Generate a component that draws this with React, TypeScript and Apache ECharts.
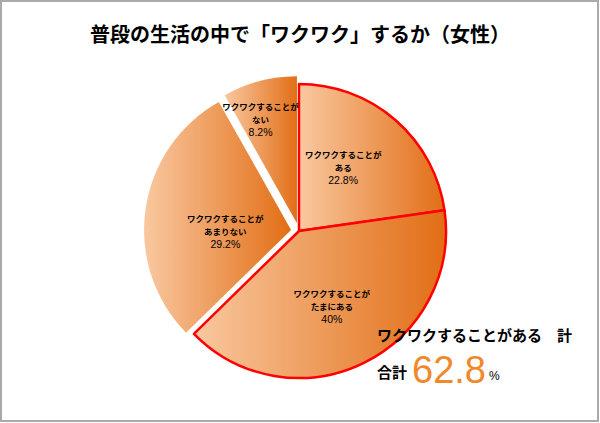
import React, { useEffect, useRef } from "react";
import * as echarts from "echarts";

const categories = [
  "ワクワクすることが\nある",
  "ワクワクすることが\nたまにある",
  "ワクワクすることが\nあまりない",
  "ワクワクすることが\nない",
];
const values = [22.8, 40, 29.2, 8.2];
const valueLabels = ["22.8%", "40%", "29.2%", "8.2%"];
const highlighted = [true, true, false, false];
const labelShifts: number[][] = [[-6, -6], [-1, 6], [10, 12], [-17, -30]];

const titleText = "普段の生活の中で「ワクワク」するか（女性）";
const totalCaption = "ワクワクすることがある　計";
const totalValue = "62.8";

export default function App() {
  const ref = useRef<HTMLDivElement>(null);
  useEffect(() => {
    if (!ref.current) return;
    const chart = echarts.init(ref.current, null, { renderer: "svg" });
    const grad = () =>
      new echarts.graphic.LinearGradient(0, 0, 1, 0, [
        { offset: 0, color: "#F9C8A0" },
        { offset: 1, color: "#E26E16" },
      ]);
    const font = "'Noto Sans CJK JP', 'Noto Sans', sans-serif";
    const latin = "'Liberation Sans', Arial, sans-serif";
    chart.setOption({
      animation: false,
      backgroundColor: "#ffffff",
      title: {
        text: titleText,
        left: "center",
        top: 18,
        textStyle: { fontSize: 20, fontWeight: "bold", color: "#000", fontFamily: font },
      },
      graphic: [
        {
          type: "rect",
          z: 100,
          shape: { x: 1, y: 1, width: 597, height: 420 },
          style: { fill: "none", stroke: "#aaaaaa", lineWidth: 2 },
          silent: true,
        },
        {
          type: "text",
          z: 100,
          left: 377,
          top: 327,
          style: { text: totalCaption, fontSize: 15, fontWeight: "bold", fill: "#000", fontFamily: font },
        },
        {
          type: "text",
          z: 100,
          left: 377,
          top: 364,
          style: { text: "合計", fontSize: 15, fontWeight: "bold", fill: "#000", fontFamily: font },
        },
        {
          type: "text",
          z: 100,
          left: 412,
          top: 351,
          style: { text: totalValue, fontSize: 38, fill: "#F0882C", fontFamily: latin },
        },
        {
          type: "text",
          z: 100,
          left: 489,
          top: 370,
          style: { text: "%", fontSize: 12, fill: "#000", fontFamily: latin },
        },
      ],
      series: [
        {
          type: "pie",
          center: [299, 231],
          radius: [0, 147],
          startAngle: 90,
          clockwise: true,
          selectedMode: "multiple",
          selectedOffset: 8,
          emphasis: { disabled: true },
          labelLine: { show: false },
          labelLayout: (params: any) => ({
            dx: labelShifts[params.dataIndex][0],
            dy: labelShifts[params.dataIndex][1],
          }),
          data: values.map((v, i) => ({
            value: v,
            name: categories[i],
            selected: !highlighted[i],
            itemStyle: {
              color: grad(),
              borderColor: highlighted[i] ? "#FF0000" : "transparent",
              borderWidth: highlighted[i] ? 2.5 : 0,
            },
            label: {
              show: true,
              position: "inside",
              formatter: () => `{b|${categories[i]}}\n{v|${valueLabels[i]}}`,
              rich: {
                b: { fontSize: 8.5, fontWeight: "bold", color: "#000", fontFamily: font, lineHeight: 13, align: "center" },
                v: { fontSize: 10.5, color: "#000", fontFamily: latin, lineHeight: 13, align: "center" },
              },
            },
          })),
        },
      ],
    });
    return () => chart.dispose();
  }, []);
  return (
    <div
      ref={ref}
      style={{ position: "fixed", left: 0, top: 0, width: 600, height: 423 }}
    />
  );
}
